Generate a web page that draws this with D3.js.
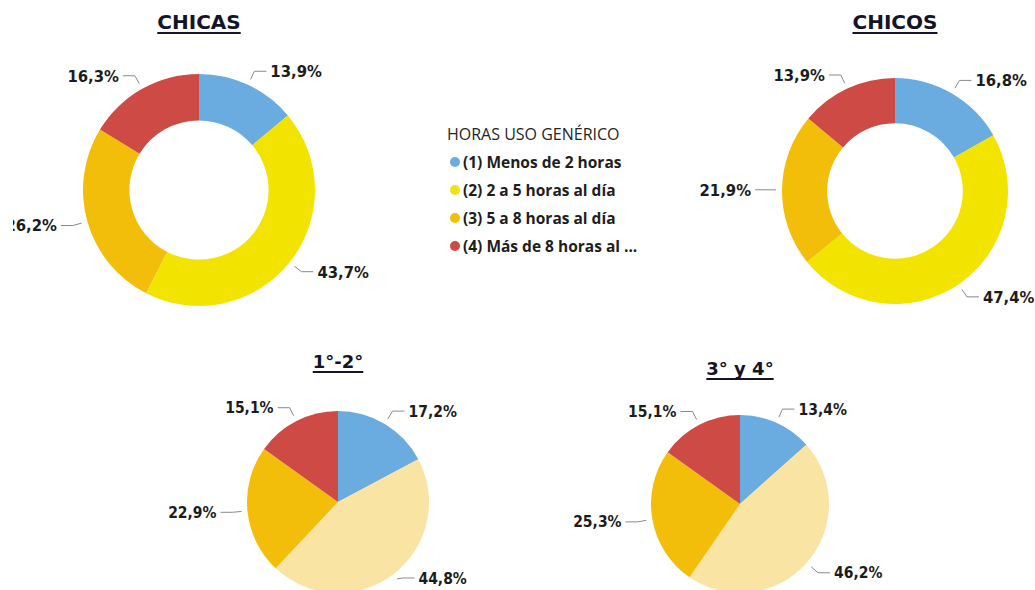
<!DOCTYPE html>
<html>
<head>
<meta charset="utf-8">
<script src="https://cdn.jsdelivr.net/npm/d3@7"></script>
<style>
  body { margin: 0; background: #fff; }
  svg { display: block; }
</style>
</head>
<body>
<script>
const w = 1035
const h = 590

// data
const categories = ['(1) Menos de 2 horas', '(2) 2 a 5 horas al día', '(3) 5 a 8 horas al día', '(4) Más de 8 horas al ...']
const legendTitle = 'HORAS USO GENÉRICO'
const chicas = [13.9, 43.7, 26.2, 16.3]
const chicos = [16.8, 47.4, 21.9, 13.9]
const curso12 = [17.2, 44.8, 22.9, 15.1]
const curso34 = [13.4, 46.2, 25.3, 15.1]
const chartTitles = ['CHICAS', 'CHICOS', '1°-2°', '3° y 4°']

const ringColors = ['#6aabe0', '#f3e400', '#f2be0a', '#ce4a44']
const pieColors = ['#6aabe0', '#f9e4a3', '#f2be0a', '#ce4a44']
const legendColors = ['#6aabe0', '#f0e21a', '#f2be0a', '#ce4a44']

const labelFont = '"DejaVu Sans Condensed", sans-serif'

// layout for each chart
const charts = [
    { values: chicas, title: chartTitles[0], cx: 199, cy: 190, r: 116, hole: 0.6, colors: ringColors, titleY: 29, titleSize: 20, labelSize: 16.5, clipLeft: 13 },
    { values: chicos, title: chartTitles[1], cx: 895, cy: 191, r: 113, hole: 0.6, colors: ringColors, titleY: 29, titleSize: 20, labelSize: 16.5 },
    { values: curso12, title: chartTitles[2], cx: 338, cy: 502, r: 91, hole: 0, colors: pieColors, titleY: 368, titleSize: 18, labelSize: 15.5 },
    { values: curso34, title: chartTitles[3], cx: 740, cy: 504, r: 89, hole: 0, colors: pieColors, titleY: 375, titleSize: 18, labelSize: 15.5 }
]

const svg = d3.select('body').append('svg')
    .attr('width', w)
    .attr('height', h)

const fmt = v => d3.format('.1f')(v).replace('.', ',') + '%'

const pie = d3.pie().sort(null).value(d => d)

function drawChart (c, i) {
    const root = svg.append('g')
    if (c.clipLeft) {
        svg.append('clipPath').attr('id', 'clip' + i)
            .append('rect').attr('x', c.clipLeft).attr('y', 0).attr('width', w).attr('height', h)
        root.attr('clip-path', `url(#clip${i})`)
    }

    // title with underline
    const t = root.append('text')
        .attr('x', c.cx)
        .attr('y', c.titleY)
        .attr('text-anchor', 'middle')
        .style('font-family', '"DejaVu Sans", sans-serif')
        .style('font-weight', 'bold')
        .style('font-size', c.titleSize + 'px')
        .attr('fill', '#141428')
        .text(c.title)
    const tw = t.node().getComputedTextLength()
    root.append('line')
        .attr('x1', c.cx - tw / 2).attr('x2', c.cx + tw / 2)
        .attr('y1', c.titleY + 4).attr('y2', c.titleY + 4)
        .attr('stroke', '#141428')
        .attr('stroke-width', 2)

    const g = root.append('g').attr('transform', `translate(${c.cx},${c.cy})`)
    const arcs = pie(c.values)

    const arc = d3.arc().innerRadius(c.r * c.hole).outerRadius(c.r)
    g.selectAll('path.slice')
        .data(arcs)
        .enter()
        .append('path')
        .attr('class', 'slice')
        .attr('d', arc)
        .attr('fill', (d, j) => c.colors[j])

    const near = d3.arc().innerRadius(c.r + 6).outerRadius(c.r + 6)
    const far = d3.arc().innerRadius(c.r + 15).outerRadius(c.r + 15)
    const maxY = h - 12 - c.cy // keep labels inside the picture

    arcs.forEach(function (d) {
        const mid = (d.startAngle + d.endAngle) / 2
        const side = mid < Math.PI ? 1 : -1
        const p0 = near.centroid(d)
        const p1 = far.centroid(d)
        p1[1] = Math.min(p1[1], maxY)
        const p2 = [p1[0] + side * 12, p1[1]]
        g.append('polyline')
            .attr('points', [p0, p1, p2].map(p => p.join(',')).join(' '))
            .attr('fill', 'none')
            .attr('stroke', '#8a8a8a')
            .attr('stroke-width', 1)
        g.append('text')
            .attr('x', p2[0] + side * 4)
            .attr('y', p2[1])
            .attr('dy', '0.36em')
            .attr('text-anchor', side > 0 ? 'start' : 'end')
            .style('font-family', labelFont)
            .style('font-weight', 'bold')
            .style('font-size', c.labelSize + 'px')
            .attr('fill', '#1c1c1c')
            .text(fmt(d.data))
    })
}

charts.forEach(drawChart)

// legend
const legend = svg.append('g').attr('transform', 'translate(447,0)')
legend.append('text')
    .attr('x', 0)
    .attr('y', 140)
    .style('font-family', '"Open Sans", sans-serif')
    .style('font-size', '16px')
    .attr('fill', '#252525')
    .text(legendTitle)

const item = legend.selectAll('g.item')
    .data(categories)
    .enter()
    .append('g')
    .attr('class', 'item')
    .attr('transform', (d, i) => `translate(0,${162 + i * 28})`)

item.append('circle')
    .attr('cx', 8)
    .attr('cy', 0)
    .attr('r', 5)
    .attr('fill', (d, i) => legendColors[i])

item.append('text')
    .attr('x', 16)
    .attr('y', 0)
    .attr('dy', '0.36em')
    .style('font-family', '"Open Sans", sans-serif')
    .style('font-weight', 'bold')
    .style('font-size', '15.5px')
    .attr('fill', '#1e1e1e')
    .text(d => d)
</script>
</body>
</html>
